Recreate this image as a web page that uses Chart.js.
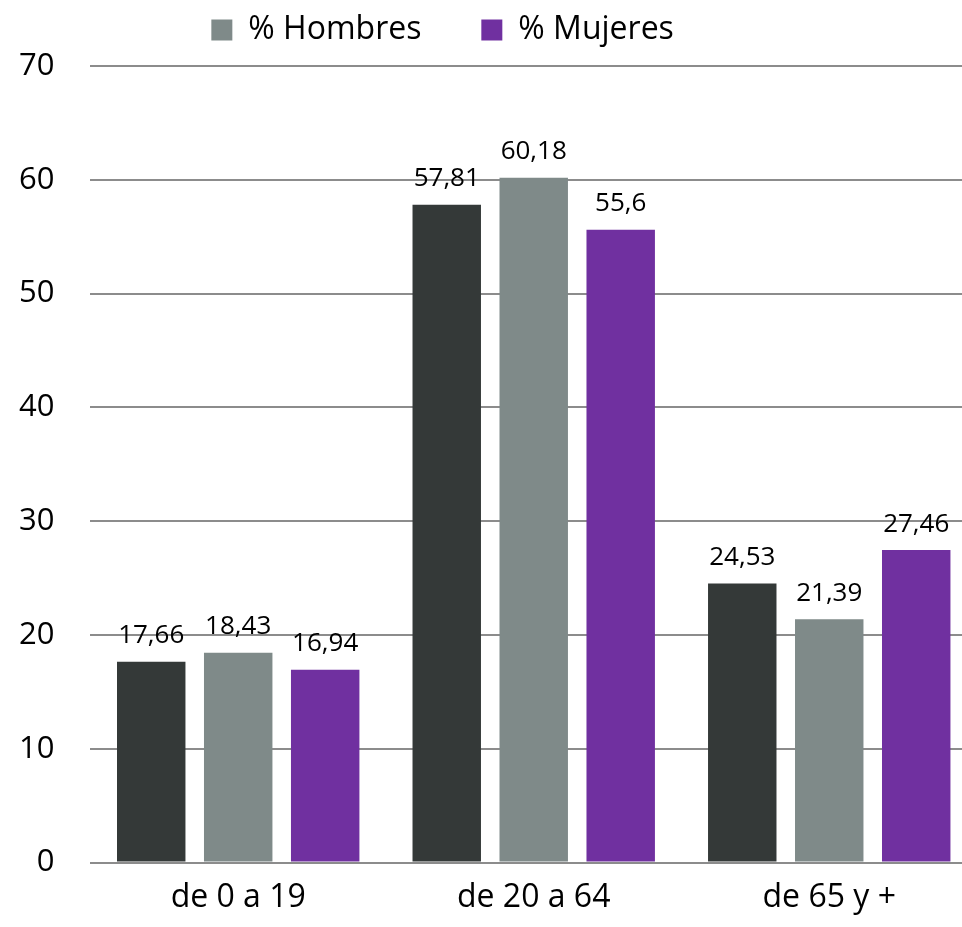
<!DOCTYPE HTML>
<html>
<head>
  <title>Población por grupos de edad</title>
  <meta charset="utf-8" />
  <script src="https://cdn.jsdelivr.net/npm/chart.js@4.4.1/dist/chart.umd.min.js"></script>
  <style type="text/css">
    body { margin: 0; padding: 0; background: #fff; }
    /* the plot runs a little past the right edge of the page */
    .wrap { width: 962px; height: 927px; overflow: hidden; }
  </style>
</head>
<body>
<div class="wrap">
  <canvas id="bar-chart" width="977" height="927"></canvas>
</div>

<script>
  // age groups and percentages per series
  var categories = ["de 0 a 19", "de 20 a 64", "de 65 y +"];
  var seriesNames = ["% Total", "% Hombres", "% Mujeres"];
  var totalValues = [17.66, 57.81, 24.53];
  var hombresValues = [18.43, 60.18, 21.39];
  var mujeresValues = [16.94, 55.6, 27.46];
  var yTicks = [0, 10, 20, 30, 40, 50, 60, 70];

  var colors = ["#343938", "#7f8a89", "#7030a0"];
  var fontFamily = "'Open Sans', 'Noto Sans', sans-serif";

  // writes the value above every bar, with a decimal comma
  var valueLabels = {
    id: 'valueLabels',
    afterDatasetsDraw: function(chart) {
      var ctx = chart.ctx;
      ctx.save();
      ctx.font = "26px " + fontFamily;
      ctx.fillStyle = "#000";
      ctx.textAlign = "center";
      ctx.textBaseline = "bottom";
      chart.data.datasets.forEach(function(ds, i) {
        var meta = chart.getDatasetMeta(i);
        meta.data.forEach(function(bar, j) {
          var txt = String(ds.data[j]).replace('.', ',');
          ctx.fillText(txt, bar.x, bar.y - 13);
        });
      });
      ctx.restore();
    }
  };

  // leaves some room between the legend and the plot
  var legendGap = {
    id: 'legendGap',
    beforeInit: function(chart) {
      var fit = chart.legend.fit;
      chart.legend.fit = function() {
        fit.bind(chart.legend)();
        this.height += 10;
      };
    }
  };

  var datasets = [totalValues, hombresValues, mujeresValues].map(function(vals, i) {
    return {
      label: seriesNames[i],
      data: vals,
      backgroundColor: colors[i],
      borderWidth: 0,
      categoryPercentage: 0.883,
      barPercentage: 0.787
    };
  });

  new Chart(document.getElementById("bar-chart"), {
    type: 'bar',
    data: { labels: categories, datasets: datasets },
    plugins: [valueLabels, legendGap],
    options: {
      responsive: false,
      animation: false,
      layout: { padding: { left: -17, right: 0, top: 4, bottom: 2 } },
      plugins: {
        tooltip: { enabled: false },
        legend: {
          position: 'top',
          labels: {
            color: "#000",
            font: { family: fontFamily, size: 32 },
            boxWidth: 21,
            boxHeight: 21,
            padding: 10,
            // only the two sex series get an entry; trailing spaces set the gaps
            generateLabels: function(chart) {
              var pads = [6, 9];
              return chart.data.datasets.slice(1).map(function(ds, k) {
                return {
                  text: ds.label + '\u00a0'.repeat(pads[k]),
                  fillStyle: ds.backgroundColor,
                  strokeStyle: ds.backgroundColor,
                  lineWidth: 0,
                  hidden: false,
                  datasetIndex: k + 1
                };
              });
            }
          }
        }
      },
      scales: {
        x: {
          grid: { display: false },
          border: { display: false },
          ticks: { color: "#000", font: { family: fontFamily, size: 32 }, padding: 8 }
        },
        y: {
          min: 0,
          max: 70,
          afterBuildTicks: function(axis) {
            axis.ticks = yTicks.map(function(v) { return { value: v }; });
          },
          grid: { color: "#8c8c8c", lineWidth: 2, drawTicks: false },
          border: { display: false },
          ticks: { color: "#000", font: { family: fontFamily, size: 31 }, padding: 36 }
        }
      }
    }
  });
</script>
</body>
</html>
